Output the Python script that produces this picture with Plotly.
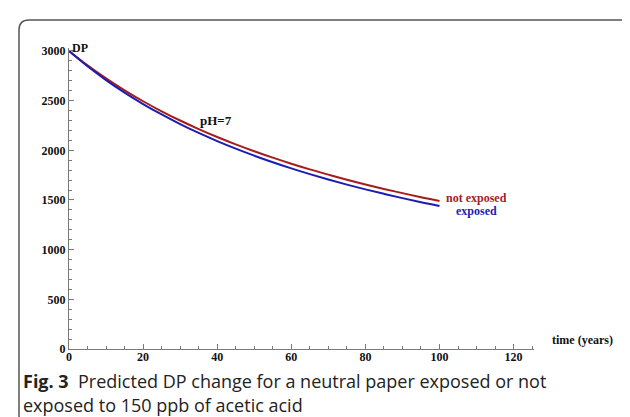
import plotly.graph_objects as go

# ---- data ----
time_years = [0, 5, 10, 15, 20, 25, 30, 35, 40, 45, 50, 55, 60, 65, 70, 75, 80, 85, 90, 95, 100]
dp_not_exposed = [3000, 2855, 2724, 2604, 2494, 2393, 2300, 2214, 2134, 2060, 1991,
                  1926, 1865, 1808, 1755, 1704, 1656, 1611, 1569, 1528, 1490]
dp_exposed = [3000, 2846, 2707, 2581, 2466, 2361, 2264, 2175, 2093, 2017, 1946,
              1880, 1818, 1760, 1706, 1655, 1607, 1562, 1519, 1478, 1440]
x_ticks = [0, 20, 40, 60, 80, 100, 120]
y_ticks = [0, 500, 1000, 1500, 2000, 2500, 3000]
series_names = ["not exposed", "exposed"]
caption_bold = "Fig. 3"
caption_line1 = "Predicted DP change for a neutral paper exposed or not"
caption_line2 = "exposed to 150 ppb of acetic acid"

# ---- layout geometry (pixels) ----
W, H = 630, 417
ML, MR, MT, MB = 61, 104, 40, 76
PW, PH = W - ML - MR, H - MT - MB

def px(xp):
    return (xp - ML) / PW

def py(yp):
    return (H - MB - yp) / PH

RED = "#A51C1C"
BLUE = "#1C1CB0"
AXC = "#7a7a7a"
SERIF = "Liberation Serif"

fig = go.Figure()
fig.add_trace(go.Scatter(x=time_years, y=dp_not_exposed, mode="lines", name=series_names[0],
                         line=dict(color=RED, width=2, shape="spline")))
fig.add_trace(go.Scatter(x=time_years, y=dp_exposed, mode="lines", name=series_names[1],
                         line=dict(color=BLUE, width=2, shape="spline")))

axis_common = dict(showline=True, linecolor=AXC, linewidth=1, ticks="inside", ticklen=5,
                   tickcolor=AXC, tickwidth=1, showgrid=False, zeroline=False,
                   tickfont=dict(family=SERIF, size=12, color="#111"))
fig.update_xaxes(range=[0, 125.5], tickvals=x_ticks, ticktext=[f"<b>{v}</b>" for v in x_ticks],
                 ticklabelstandoff=-3,
                 minor=dict(dtick=5, ticklen=3, ticks="inside", tickcolor=AXC), **axis_common)
fig.update_yaxes(range=[0, 3030], tickvals=y_ticks, ticktext=[f"<b>{v}</b>" for v in y_ticks],
                 minor=dict(dtick=100, ticklen=3, ticks="inside", tickcolor=AXC), **axis_common)

ann = []
ann.append(dict(x=px(62), y=py(31), xref="paper", yref="paper", text="<b>DP</b>", showarrow=False,
                font=dict(family=SERIF, size=12, color="#111")))
ann.append(dict(x=px(542), y=py(341), xref="paper", yref="paper", xanchor="left",
                text="<b>time (years)</b>", showarrow=False,
                font=dict(family=SERIF, size=12, color="#111")))
ann.append(dict(x=39.7, y=2305, xref="x", yref="y", text="<b>pH=7</b>", showarrow=False,
                font=dict(family=SERIF, size=13, color="#111")))
ann.append(dict(x=109.9, y=1525, xref="x", yref="y", text="<b>" + series_names[0] + "</b>",
                showarrow=False, borderpad=0, font=dict(family=SERIF, size=12, color=RED)))
ann.append(dict(x=109.9, y=1392, xref="x", yref="y", text="<b>" + series_names[1] + "</b>",
                showarrow=False, borderpad=0, font=dict(family=SERIF, size=12, color=BLUE)))
cap_font = dict(family="Open Sans", size=18, color="#222")
ann.append(dict(x=px(14), y=py(373), xref="paper", yref="paper", xanchor="left", yanchor="middle",
                align="left", text="<b>" + caption_bold + "</b>  " + caption_line1, showarrow=False,
                borderpad=0, font=cap_font))
ann.append(dict(x=px(14), y=py(397), xref="paper", yref="paper", xanchor="left", yanchor="middle",
                align="left", text=caption_line2, showarrow=False,
                borderpad=0, font=cap_font))

# rounded frame
L, R, T, B, r = 11, 622, 12, 418, 10
path = (f"M {px(L)},{py(T + r)} Q {px(L)},{py(T)} {px(L + r)},{py(T)} "
        f"L {px(R - r)},{py(T)} Q {px(R)},{py(T)} {px(R)},{py(T + r)} "
        f"L {px(R)},{py(B - r)} Q {px(R)},{py(B)} {px(R - r)},{py(B)} "
        f"L {px(L + r)},{py(B)} Q {px(L)},{py(B)} {px(L)},{py(B - r)} Z")
fig.add_shape(type="path", path=path, xref="paper", yref="paper",
              line=dict(color="#555", width=1.5), layer="below")

fig.update_layout(width=W, height=H, margin=dict(l=ML, r=MR, t=MT, b=MB),
                  paper_bgcolor="white", plot_bgcolor="white", showlegend=False,
                  annotations=ann)
fig.write_html("out.html")
